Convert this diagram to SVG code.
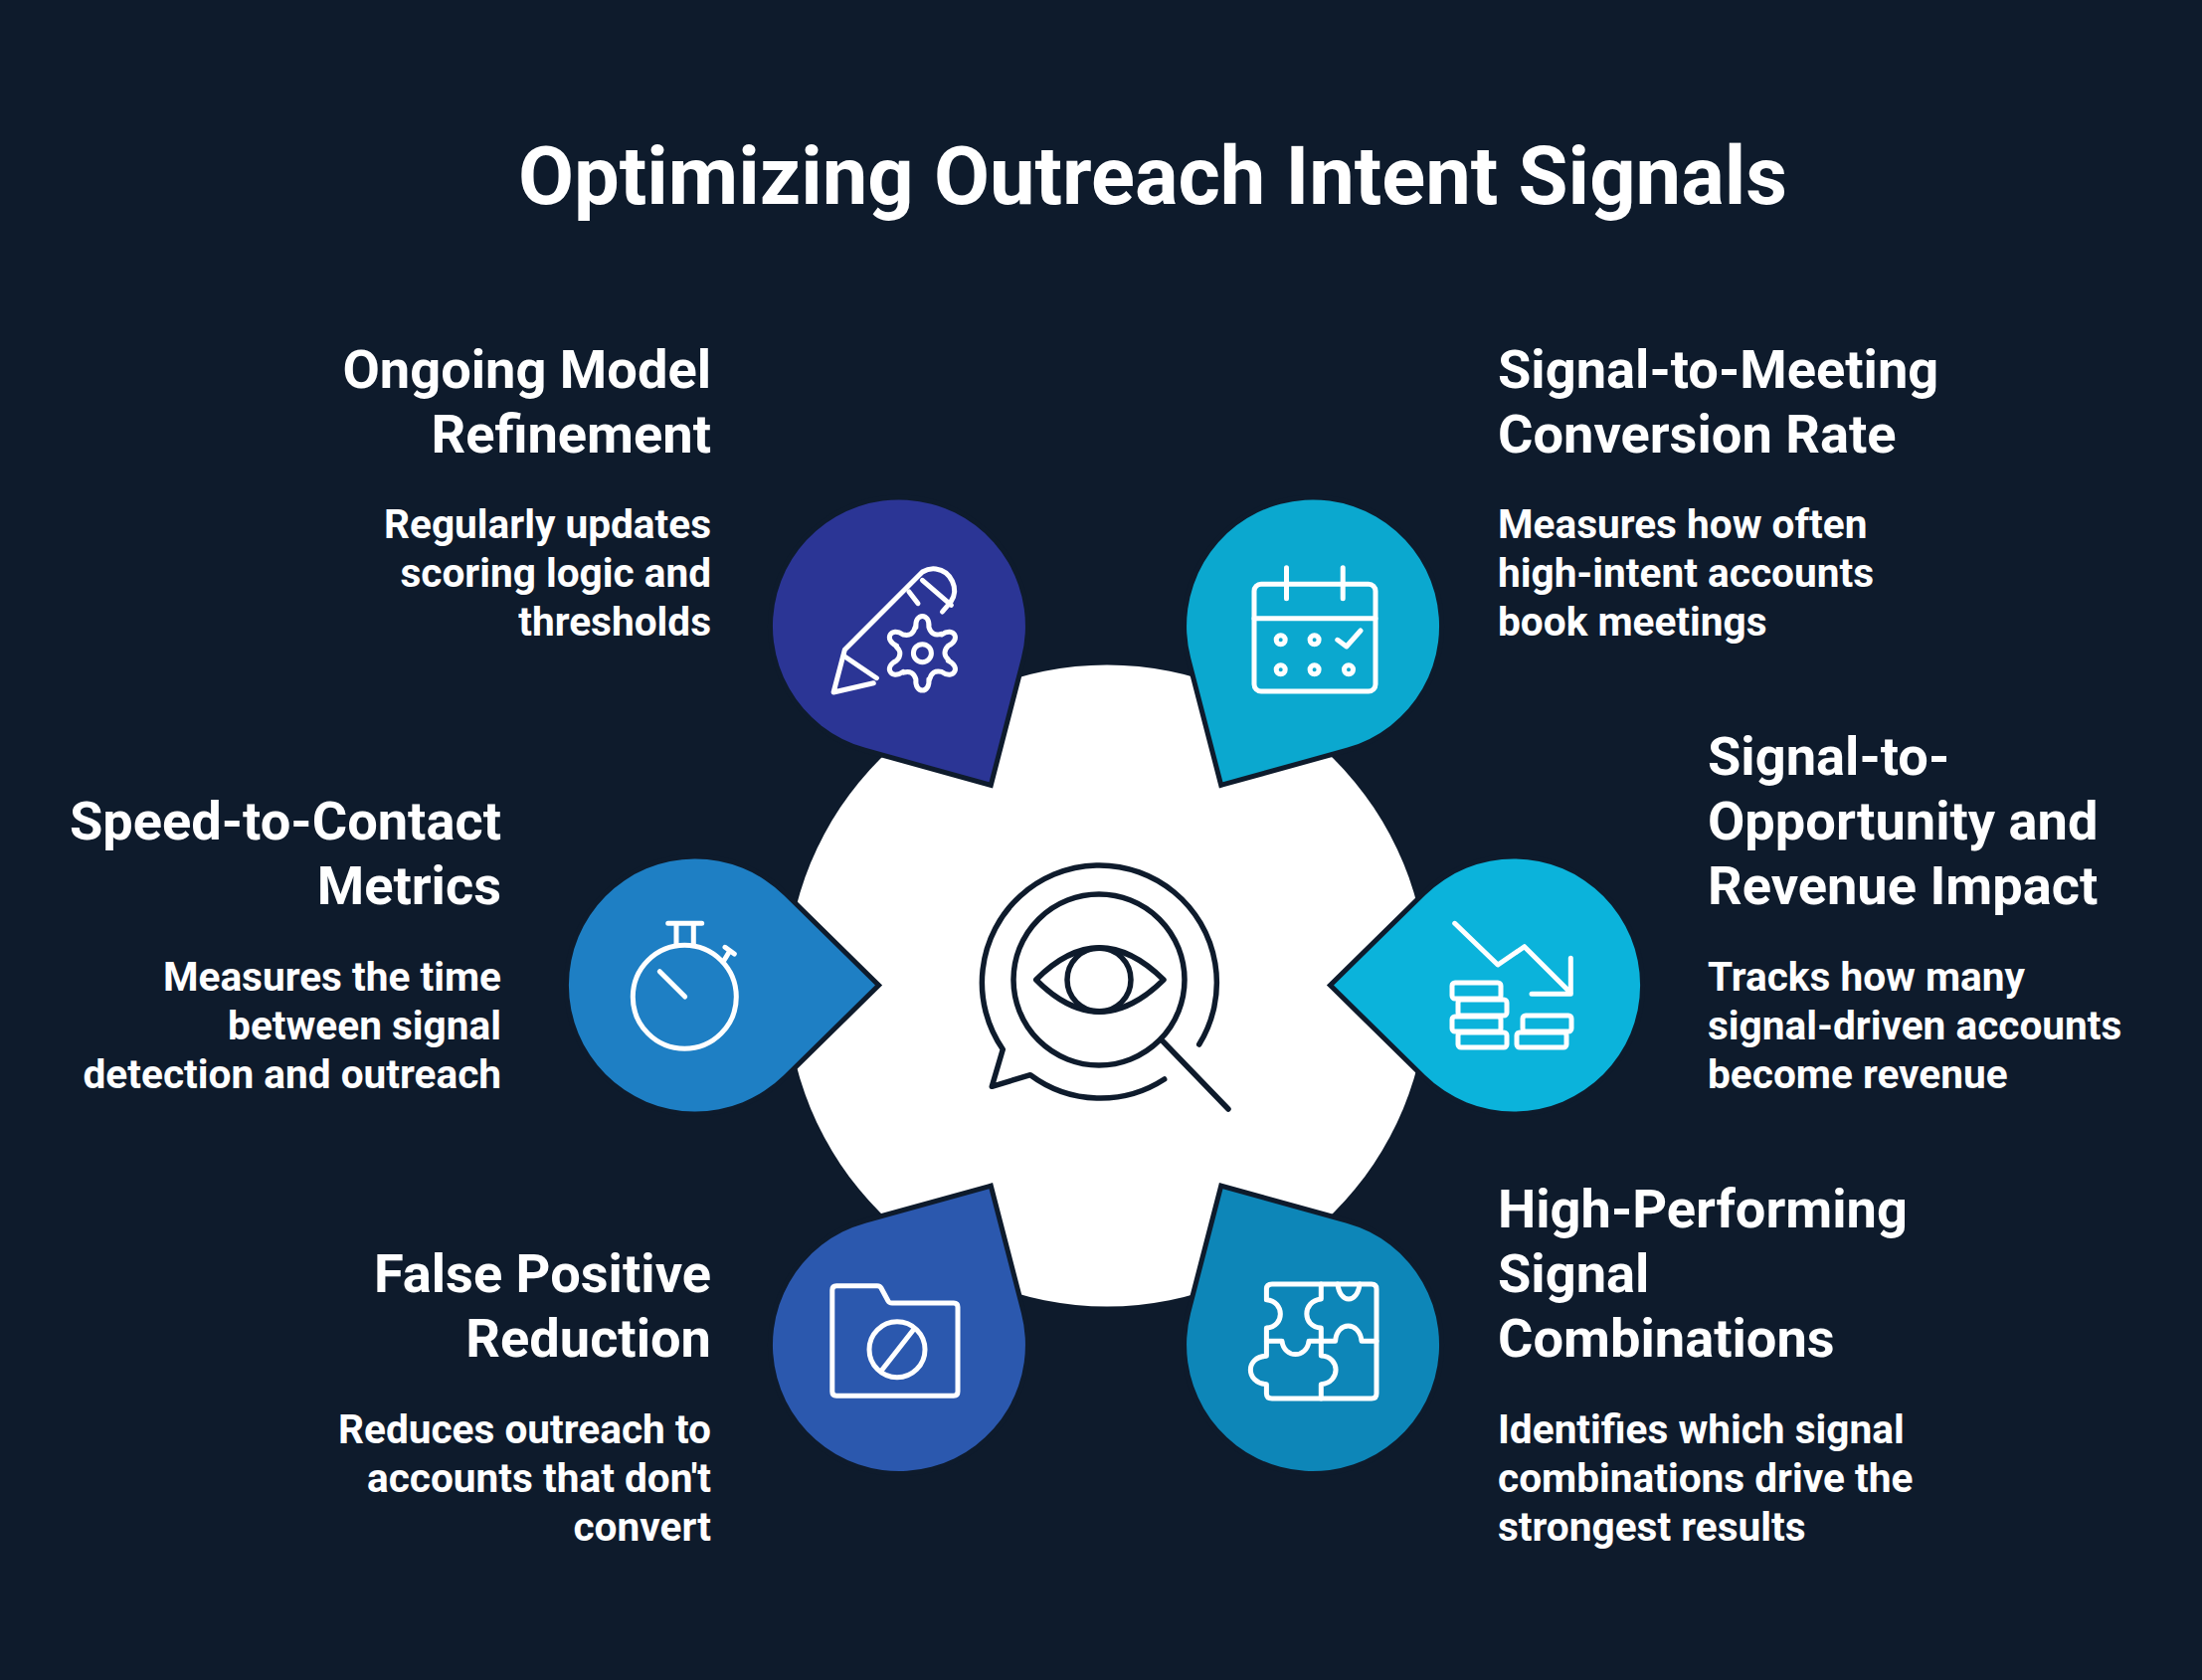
<svg xmlns="http://www.w3.org/2000/svg" width="2214" height="1689" viewBox="0 0 2214 1689">
<style>
text{font-family:Roboto,"Liberation Sans",sans-serif;font-weight:700;fill:#fff}
.t{font-size:81.3px}
.h{font-size:54.2px}
.b{font-size:40.6px}
.e{text-anchor:end}
.drop{stroke:#0e1b2c;stroke-width:10;paint-order:stroke;stroke-linejoin:miter}
.ic{fill:none;stroke:#fff;stroke-width:5;stroke-linecap:round;stroke-linejoin:round}
.cic{fill:none;stroke:#0e1b2c;stroke-width:5.5;stroke-linecap:round;stroke-linejoin:round}
</style>
<defs>
<path id="tear" d="M181 0L89 -90.5A127 127 0 1 0 89 90.5Z"/>
<path id="lobe" d="M-6.5 -26.2C-8 -41 8 -41 6.5 -26.2Q9.5 -16.5 18.8 -19.4"/>
</defs>
<rect id="background" width="2214" height="1689" fill="#0e1b2c"/>
<text class="t" x="1159" y="205" text-anchor="middle">Optimizing Outreach Intent Signals</text>
<g id="center">
<circle cx="1113" cy="991" r="322.5" fill="#fff"/>
<g class="cic">
<path d="M1205.7 1050A118 118 0 1 0 1008.3 1055L997.3 1092.3L1036 1080.7A118 118 0 0 0 1170.7 1085"/>
<circle cx="1105" cy="985" r="86"/>
<path d="M1041.7 985Q1105 921 1170 985Q1105 1049 1041.7 985Z"/>
<circle cx="1105" cy="985" r="32"/>
<path d="M1169.3 1047L1235 1115"/>
</g>
</g>
<g id="node-model-refinement">
<use href="#tear" class="drop" fill="#2b3595" transform="translate(904 629.5) rotate(60)"/>
<g class="ic">
<path d="M878.3 686.7L838.1 696L849.3 653.3L927.4 575Q934 571 941 572C956 574 965 592 956 605L947.5 615"/>
<path d="M927.4 583.3L956.4 608.3M914 595L923 606.7M849.3 660L881.4 681.7"/>
<circle cx="927.4" cy="656.7" r="9"/>
<g transform="translate(927.4 656.7)">
<use href="#lobe"/><use href="#lobe" transform="rotate(60)"/><use href="#lobe" transform="rotate(120)"/><use href="#lobe" transform="rotate(180)"/><use href="#lobe" transform="rotate(240)"/><use href="#lobe" transform="rotate(300)"/>
</g>
</g>
<text class="h e" x="715" y="390">Ongoing Model</text>
<text class="h e" x="715" y="455">Refinement</text>
<text class="b e" x="715" y="541">Regularly updates</text>
<text class="b e" x="715" y="590">scoring logic and</text>
<text class="b e" x="715" y="639">thresholds</text>
</g>
<g id="node-meeting-conversion">
<use href="#tear" class="drop" fill="#0ba8cf" transform="translate(1320 629.5) rotate(120)"/>
<g class="ic">
<rect x="1261" y="587.3" width="122" height="107.7" rx="7"/>
<path d="M1261 621.7H1383M1293.5 570.7V601.7M1350.2 570.7V601.7M1344.8 643.3L1353.8 650L1368 634"/>
<circle cx="1287.7" cy="643.3" r="4.5"/><circle cx="1321.6" cy="643.3" r="4.5"/>
<circle cx="1287.7" cy="673.3" r="4.5"/><circle cx="1321.6" cy="673.3" r="4.5"/><circle cx="1356" cy="673.3" r="4.5"/>
</g>
<text class="h" x="1506" y="390">Signal-to-Meeting</text>
<text class="h" x="1506" y="455">Conversion Rate</text>
<text class="b" x="1506" y="541">Measures how often</text>
<text class="b" x="1506" y="590">high-intent accounts</text>
<text class="b" x="1506" y="639">book meetings</text>
</g>
<g id="node-revenue-impact">
<use href="#tear" class="drop" fill="#0bb3db" transform="translate(1522 990.5) rotate(180)"/>
<g class="ic">
<path d="M1462.7 928.3L1506 970L1532.7 951.7L1579.3 998.3M1579.3 963.3V999.3H1540"/>
<rect x="1460" y="988" width="49" height="16" rx="3"/>
<rect x="1466" y="1005" width="49" height="16" rx="3"/>
<rect x="1460" y="1022" width="49" height="15" rx="3"/>
<rect x="1466" y="1038" width="49" height="15" rx="3"/>
<rect x="1531" y="1021" width="49" height="16" rx="3"/>
<rect x="1525" y="1038" width="50" height="15" rx="3"/>
</g>
<text class="h" x="1717" y="779">Signal-to-</text>
<text class="h" x="1717" y="844">Opportunity and</text>
<text class="h" x="1717" y="909">Revenue Impact</text>
<text class="b" x="1717" y="996">Tracks how many</text>
<text class="b" x="1717" y="1045">signal-driven accounts</text>
<text class="b" x="1717" y="1094">become revenue</text>
</g>
<g id="node-signal-combinations">
<use href="#tear" class="drop" fill="#0d86b8" transform="translate(1320 1352) rotate(240)"/>
<g class="ic">
<path d="M1273.4 1306.7V1296Q1273.4 1291 1279 1291H1379Q1384 1291 1384 1296V1401Q1384 1406 1379 1406H1279Q1273.4 1406 1273.4 1401V1391.7C1252 1390 1252 1364 1273.4 1363.3V1348.3V1335C1292 1334 1292 1308 1273.4 1306.7"/>
<path d="M1328.3 1291V1306C1309 1308 1309 1334 1328.3 1335V1363C1348 1364 1348 1390 1328.3 1391.7V1406"/>
<path d="M1273.4 1348.3H1289C1291 1366 1314 1366 1316 1348.3H1342.6C1344 1328 1367 1328 1369 1348.3H1384"/>
<path d="M1345 1291C1347 1311 1365 1311 1367 1291"/>
</g>
<text class="h" x="1506" y="1234">High-Performing</text>
<text class="h" x="1506" y="1299">Signal</text>
<text class="h" x="1506" y="1364">Combinations</text>
<text class="b" x="1506" y="1451">Identifies which signal</text>
<text class="b" x="1506" y="1500">combinations drive the</text>
<text class="b" x="1506" y="1549">strongest results</text>
</g>
<g id="node-false-positive">
<use href="#tear" class="drop" fill="#2b58ae" transform="translate(904 1352) rotate(300)"/>
<g class="ic">
<path d="M841 1292.7H882Q885 1292.7 886 1295L893 1308Q894 1310 897 1310H959Q963 1310 963 1314V1399Q963 1403.3 959 1403.3H841Q836.8 1403.3 836.8 1399V1297Q836.8 1292.7 841 1292.7Z"/>
<circle cx="902" cy="1356.7" r="28"/>
<path d="M887.2 1376.7L918.5 1336.7"/>
</g>
<text class="h e" x="715" y="1299">False Positive</text>
<text class="h e" x="715" y="1364">Reduction</text>
<text class="b e" x="715" y="1451">Reduces outreach to</text>
<text class="b e" x="715" y="1500">accounts that don't</text>
<text class="b e" x="715" y="1549">convert</text>
</g>
<g id="node-speed-to-contact">
<use href="#tear" class="drop" fill="#1e7fc4" transform="translate(699 990.5)"/>
<g class="ic">
<circle cx="688.3" cy="1002.3" r="52"/>
<path d="M663.3 976.7L688.7 1002M671.7 928.3H705.7M680 928.3V950M697.3 928.3V950M728.3 965L733.3 956.7M729 952.3L738.3 959"/>
</g>
<text class="h e" x="504" y="844">Speed-to-Contact</text>
<text class="h e" x="504" y="909">Metrics</text>
<text class="b e" x="504" y="996">Measures the time</text>
<text class="b e" x="504" y="1045">between signal</text>
<text class="b e" x="504" y="1094">detection and outreach</text>
</g>
<g id="connectors"></g>
</svg>
